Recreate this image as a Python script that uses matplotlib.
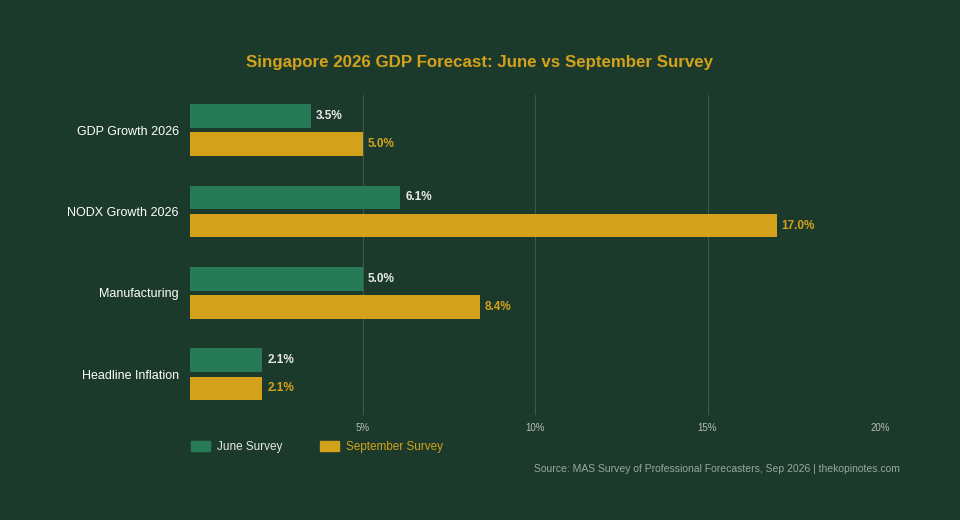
import matplotlib
matplotlib.use("Agg")
import matplotlib.pyplot as plt
from matplotlib.patches import Patch
plt.rcParams['font.family'] = ['Liberation Sans', 'DejaVu Sans']

categories = ["GDP Growth 2026", "NODX Growth 2026", "Manufacturing", "Headline Inflation"]
june = [3.5, 6.1, 5.0, 2.1]
sept = [5.0, 17.0, 8.4, 2.1]
ticks = [5, 10, 15, 20]

BG = "#1b3a2c"; GREEN = "#267a55"; GOLD = "#d4a21a"
fig = plt.figure(figsize=(9.6, 5.2), dpi=100, facecolor=BG)
ax = fig.add_axes([190/960, 1-415/520, 690/960, 320/520], facecolor=BG)
n = range(len(categories))
off = 0.173; h = 0.29
ax.barh([i-off for i in n], june, height=h, color=GREEN)
ax.barh([i+off for i in n], sept, height=h, color=GOLD)
for i in n:
    ax.text(june[i]+0.15, i-off, f"{june[i]:.1f}%", va="center", ha="left", color="#e8e8e8", fontsize=8.5, fontweight="bold")
    ax.text(sept[i]+0.15, i+off, f"{sept[i]:.1f}%", va="center", ha="left", color=GOLD, fontsize=8.5, fontweight="bold")
ax.set_xlim(0, 20)
ax.set_ylim(3.5, -0.43)
ax.set_xticks(ticks)
ax.set_xticklabels([f"{t}%" for t in ticks], color="#bbbbbb", fontsize=7)
ax.set_yticks(list(n))
ax.set_yticklabels(categories, color="#ffffff", fontsize=9)
ax.tick_params(length=0, pad=8)
ax.tick_params(axis="x", pad=6)
for s in ax.spines.values():
    s.set_visible(False)
ax.grid(axis="x", color="#3a5a4a", linewidth=0.8)
ax.set_axisbelow(True)
fig.text(480/960, 1-62/520, "Singapore 2026 GDP Forecast: June vs September Survey", ha="center", va="center",
         color=GOLD, fontsize=12.2, fontweight="bold")
leg = fig.legend(handles=[Patch(color=GREEN, label="June Survey"), Patch(color=GOLD, label="September Survey")],
                 loc="center left", bbox_to_anchor=(180/960, 1-447/520), ncol=2, frameon=False,
                 fontsize=8.5, handlelength=1.6, handleheight=0.9, handletextpad=0.6, columnspacing=3.2)
leg.get_texts()[0].set_color("#e8e8e8"); leg.get_texts()[1].set_color(GOLD)
fig.text(900/960, 1-469/520, "Source: MAS Survey of Professional Forecasters, Sep 2026 | thekopinotes.com",
         ha="right", va="center", color="#9aa8a0", fontsize=7.5)
fig.savefig("out.png", facecolor=BG)
